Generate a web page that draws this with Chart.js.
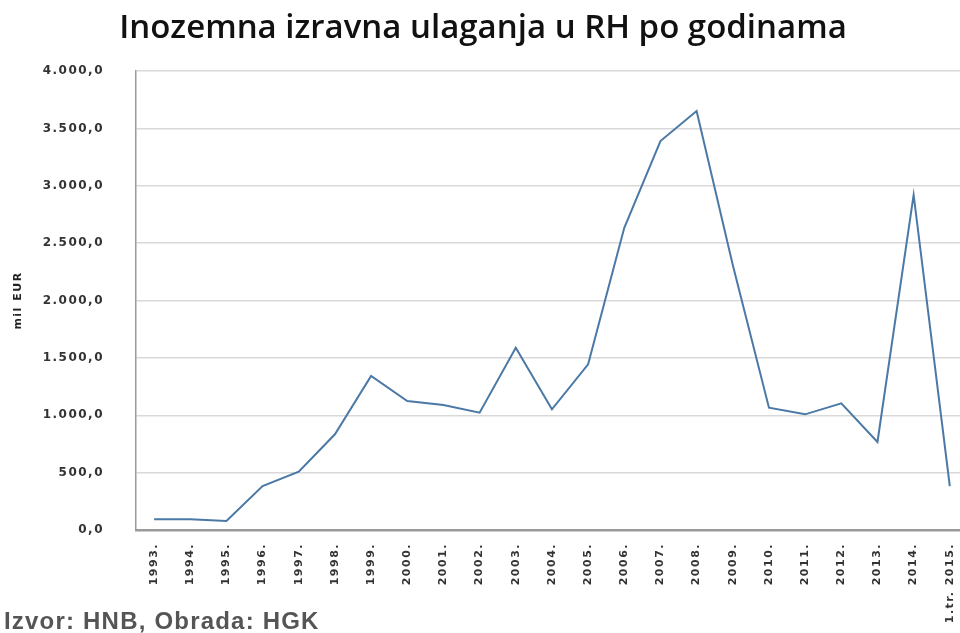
<!DOCTYPE html>
<html>
<head>
<meta charset="utf-8">
<script src="https://cdn.jsdelivr.net/npm/chart.js@4"></script>
<style>
  html, body { margin: 0; padding: 0; background: #fff; overflow: hidden; }
  #wrap { position: absolute; left: 0; top: 0; width: 968px; height: 633px; }
  #naslov {
    position: absolute; left: 0; top: 6px; width: 966px; text-align: center;
    font-family: "Open Sans", sans-serif; font-weight: 600;
    font-size: 33px; line-height: 40px; color: #111; white-space: nowrap;
  }
  #izvor {
    position: absolute; left: 4px; top: 608px;
    font-family: "Liberation Sans", Arial, sans-serif; font-weight: bold;
    font-size: 24px; line-height: 25px; letter-spacing: 1.2px; color: #555;
    white-space: nowrap;
  }
</style>
</head>
<body>
<div id="wrap"><canvas id="fdiChart" width="968" height="633"></canvas></div>
<div id="naslov">Inozemna izravna ulaganja u RH po godinama</div>
<div id="izvor">Izvor: HNB, Obrada: HGK</div>
<script>
const years = ['1993.', '1994.', '1995.', '1996.', '1997.', '1998.', '1999.', '2000.',
  '2001.', '2002.', '2003.', '2004.', '2005.', '2006.', '2007.', '2008.', '2009.',
  '2010.', '2011.', '2012.', '2013.', '2014.', '1.tr. 2015.'];
const ulaganja = [93, 93, 78, 383, 508, 834, 1342, 1124, 1089, 1022, 1589, 1052,
  1444, 2634, 3390, 3651, 2310, 1066, 1008, 1104, 767, 2920, 383];
const yTicks = [0, 500, 1000, 1500, 2000, 2500, 3000, 3500, 4000];

const canvas = document.getElementById('fdiChart');

// format 3500 -> 3.500,0
function fmt(v) {
  const s = Math.round(v).toString().replace(/\B(?=(\d{3})+(?!\d))/g, '.');
  return s + ',0';
}

// razmak izmedju slova na osima (original je rastegnut)
const spacing = {
  id: 'spacing',
  beforeDraw: (chart) => { chart.ctx.letterSpacing = '1.5px'; },
  afterDraw: (chart) => { chart.ctx.letterSpacing = '0px'; }
};

const fdiChart = new Chart(canvas, {
  type: 'line',
  data: {
    labels: years,
    datasets: [{
      label: 'mil EUR',
      data: ulaganja,
      borderColor: '#4b79a6',
      borderWidth: 2,
      pointRadius: 0,
      tension: 0,
      fill: false
    }]
  },
  plugins: [spacing],
  options: {
    responsive: false,
    animation: false,
    maintainAspectRatio: false,
    layout: { padding: { left: 12, top: 71, right: 0, bottom: 0 } },
    plugins: {
      legend: { display: false },
      tooltip: { enabled: false }
    },
    scales: {
      y: {
        min: 0,
        max: 4000,
        afterBuildTicks: (scale) => { scale.ticks = yTicks.map(v => ({ value: v })); },
        afterFit: (scale) => { scale.width = 124; },
        ticks: {
          color: '#333',
          padding: 32,
          font: { family: '"DejaVu Sans", sans-serif', size: 12, weight: 'bold' },
          callback: (v) => fmt(v)
        },
        title: {
          display: true,
          text: 'mil EUR',
          color: '#222',
          padding: { top: 0, bottom: 0 },
          font: { family: '"DejaVu Sans", sans-serif', size: 11, weight: 'bold' }
        },
        grid: { color: '#d9d9d9', lineWidth: 1.5, drawTicks: false },
        border: { color: '#9a9a9a', width: 1.5 }
      },
      x: {
        offset: true,
        afterFit: (scale) => { scale.height = 103; },
        ticks: {
          color: '#333',
          autoSkip: false,
          maxRotation: 90,
          minRotation: 90,
          padding: 5,
          font: { family: '"DejaVu Sans", sans-serif', size: 11, weight: 'bold' }
        },
        grid: { display: false },
        border: { color: '#9a9a9a', width: 2.5 }
      }
    }
  }
});
</script>
</body>
</html>
